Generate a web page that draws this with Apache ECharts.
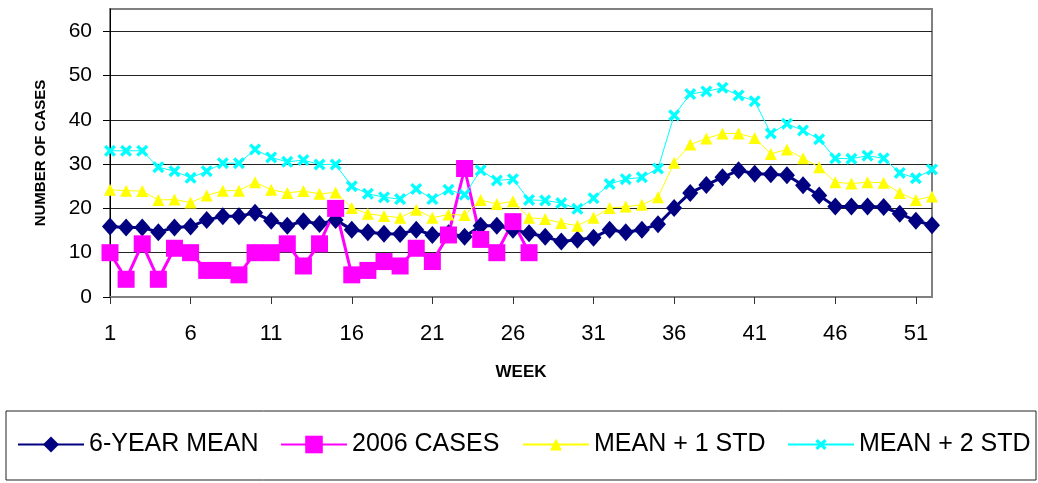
<!DOCTYPE html>
<html>
<head>
<meta charset="utf-8">
<script src="https://cdn.jsdelivr.net/npm/echarts@6/dist/echarts.min.js"></script>
<style>
html,body{margin:0;padding:0;background:#fff;}
#chart{width:1038px;height:483px;}
</style>
</head>
<body>
<div id="chart"></div>
<script>
const weeks = ['1','2','3','4','5','6','7','8','9','10','11','12','13','14','15','16','17','18','19','20','21','22','23','24','25','26','27','28','29','30','31','32','33','34','35','36','37','38','39','40','41','42','43','44','45','46','47','48','49','50','51','52'];

const sixYearMean = [15.9,15.7,15.7,14.6,15.7,15.9,17.4,18.2,18.2,19.0,17.2,16.1,17.1,16.5,17.4,15.2,14.6,14.3,14.2,15.2,14.0,14.4,13.6,16.1,16.1,15.2,14.4,13.6,12.5,12.9,13.4,15.2,14.6,15.2,16.4,20.1,23.5,25.3,27.0,28.6,27.8,27.7,27.5,25.2,22.9,20.4,20.4,20.4,20.3,18.8,17.2,16.2];

const cases2006 = [10,4,12,4,11,10,6,6,5,10,10,12,7,12,20,5,6,8,7,11,8,14,29,13,10,17,10];

const meanPlus1 = [24.2,24.0,23.9,21.9,22.0,21.3,22.9,24.0,24.0,25.9,24.2,23.5,23.9,23.3,23.6,20.1,18.8,18.3,17.9,19.7,17.9,18.6,18.5,21.9,21.0,21.6,17.9,17.6,16.7,16.1,17.9,20.1,20.4,20.8,22.5,30.3,34.4,35.8,36.9,36.9,35.9,32.3,33.3,31.3,29.3,25.9,25.6,25.9,25.8,23.5,21.9,22.7];

const meanPlus2 = [33.0,33.0,33.0,29.3,28.4,26.9,28.4,30.2,30.2,33.3,31.5,30.5,30.9,29.9,29.9,25.0,23.3,22.5,22.1,24.4,22.1,24.2,23.1,28.6,26.3,26.6,21.9,21.8,21.2,19.9,22.3,25.5,26.6,27.0,29.0,41.0,45.8,46.4,47.2,45.5,44.2,36.9,39.1,37.6,35.6,31.3,31.2,31.9,31.3,28.0,26.8,28.8];

const seriesNames = ['6-YEAR MEAN','2006 CASES','MEAN + 1 STD','MEAN + 2 STD'];

const FONT = "'Liberation Sans', Arial, sans-serif";
const crossPath = 'path://M0,2 L2,0 L5,3 L8,0 L10,2 L7,5 L10,8 L8,10 L5,7 L2,10 L0,8 L3,5 Z';

const chart = echarts.init(document.getElementById('chart'), null, {renderer:'canvas'});

function legendFor(name, left, itemHeight) {
  return {
    data: [name],
    left: left,
    top: 432,
    padding: 0,
    itemWidth: 66,
    itemHeight: itemHeight,
    itemGap: 0,
    selectedMode: false,
    textStyle: {fontFamily: FONT, fontSize: 25, color: '#000'}
  };
}

const option = {
  animation: false,
  backgroundColor: '#fff',
  textStyle: {fontFamily: FONT},
  grid: {
    left: 110, right: 106, top: 9, bottom: 186,
    show: true, borderColor: '#808080', borderWidth: 2, backgroundColor: '#fff'
  },
  legend: [
    legendFor(seriesNames[0], 17, 20),
    legendFor(seriesNames[1], 280, 22),
    legendFor(seriesNames[2], 522, 15),
    legendFor(seriesNames[3], 787, 14)
  ],
  graphic: [
    {type: 'rect', shape: {x: 6, y: 411, width: 1030, height: 69},
     style: {fill: 'none', stroke: '#222', lineWidth: 1}, z: -1}
  ],
  xAxis: {
    type: 'category',
    data: weeks,
    boundaryGap: false,
    name: 'WEEK',
    nameLocation: 'middle',
    nameGap: 67,
    nameTextStyle: {fontFamily: FONT, fontSize: 17, fontWeight: 'bold', color: '#000'},
    axisLine: {lineStyle: {color: '#808080', width: 2}},
    axisTick: {interval: 4, length: 7, lineStyle: {color: '#333'}},
    axisLabel: {interval: 4, fontSize: 22, color: '#000', margin: 26, fontFamily: FONT},
    splitLine: {show: false}
  },
  yAxis: {
    type: 'value',
    min: 0, max: 65, interval: 10,
    name: 'NUMBER OF CASES',
    nameLocation: 'middle',
    nameGap: 62,
    nameRotate: 90,
    nameTextStyle: {fontFamily: FONT, fontSize: 15, fontWeight: 'bold', color: '#000'},
    axisLine: {show: true, lineStyle: {color: '#000', width: 1}},
    axisTick: {show: true, length: 7, lineStyle: {color: '#000'}},
    axisLabel: {fontSize: 21, color: '#000', margin: 18, fontFamily: FONT, showMaxLabel: false},
    splitLine: {show: true, showMaxLine: false, lineStyle: {color: '#222', width: 1}}
  },
  series: [
    {
      name: seriesNames[0], type: 'line', data: sixYearMean,
      symbol: 'diamond', symbolSize: [16, 18], showAllSymbol: true,
      itemStyle: {color: '#000080'}, lineStyle: {color: '#000080', width: 3}
    },
    {
      name: seriesNames[1], type: 'line', data: cases2006,
      symbol: 'rect', symbolSize: 17, showAllSymbol: true,
      itemStyle: {color: '#FF00FF'}, lineStyle: {color: '#FF00FF', width: 3}
    },
    {
      name: seriesNames[2], type: 'line', data: meanPlus1,
      symbol: 'triangle', symbolSize: 12, showAllSymbol: true,
      itemStyle: {color: '#FFFF00'}, lineStyle: {color: '#FFFF00', width: 1}
    },
    {
      name: seriesNames[3], type: 'line', data: meanPlus2,
      symbol: crossPath, symbolSize: 12, showAllSymbol: true,
      itemStyle: {color: '#00FFFF'}, lineStyle: {color: '#00FFFF', width: 1}
    }
  ]
};
chart.setOption(option);
</script>
</body>
</html>
